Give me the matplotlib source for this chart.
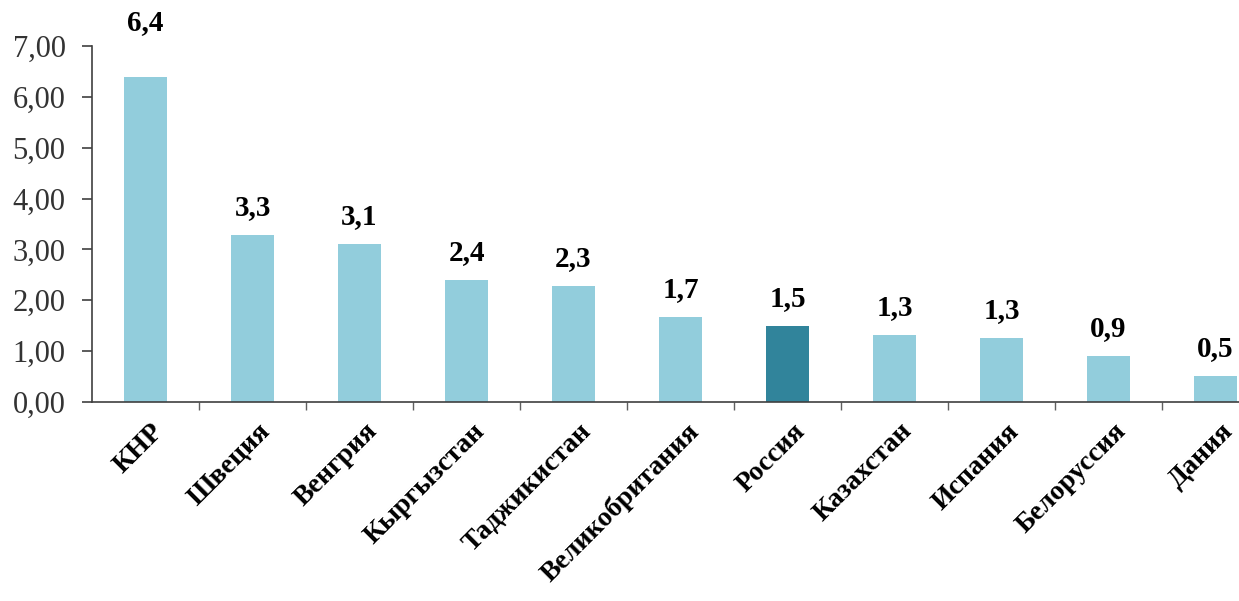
import numpy as np
import matplotlib.pyplot as plt
from matplotlib.ticker import FuncFormatter, FixedLocator

plt.rcParams['font.family'] = ['Liberation Serif', 'DejaVu Serif']

countries = ['КНР', 'Швеция', 'Венгрия', 'Кыргызстан', 'Таджикистан', 'Великобритания',
             'Россия', 'Казахстан', 'Испания', 'Белоруссия', 'Дания']
values = [6.4, 3.3, 3.1, 2.4, 2.3, 1.7, 1.5, 1.3, 1.3, 0.9, 0.5]
heights = [6.39, 3.28, 3.1, 2.4, 2.28, 1.67, 1.49, 1.32, 1.26, 0.9, 0.51]
highlight = 'Россия'

light = '#92CDDC'
dark = '#31849B'
colors = [dark if c == highlight else light for c in countries]

fig = plt.figure(figsize=(12.39, 6.01), dpi=100)
ax = fig.add_axes([92 / 1239, 199 / 601, 1177 / 1239, 356 / 601])

x = np.arange(len(countries))
ax.bar(x, heights, width=0.41, color=colors, zorder=2)

for xi, h, v in zip(x, heights, values):
    ty = h + 0.28
    if ty > 6.5:
        # the tallest label sits above the top of the axis
        ty = 7.2
    ax.text(xi, ty, f'{v:.1f}'.replace('.', ','), ha='center', va='bottom',
            fontsize=21, fontweight='bold', clip_on=False)

ax.set_xlim(-0.5, len(countries) - 0.5)
ax.set_ylim(0, 7)
ax.set_yticks(np.arange(0, 8, 1))
ax.yaxis.set_major_formatter(FuncFormatter(lambda v, p: f'{v:.2f}'.replace('.', ',')))
ax.tick_params(axis='y', labelsize=22, direction='out', length=7, width=1.2,
               colors='#404040', labelcolor='#333333', pad=12)

ax.set_xticks(x + 0.05)
ax.set_xticklabels(countries, rotation=45, ha='right', va='top', rotation_mode='anchor',
                   fontsize=20, fontweight='bold')
ax.tick_params(axis='x', length=0, pad=12)
ax.xaxis.set_minor_locator(FixedLocator(x[:-1] + 0.5))
ax.tick_params(axis='x', which='minor', direction='out', length=6, width=1, colors='#606060')

for s in ['top', 'right']:
    ax.spines[s].set_visible(False)
ax.spines['left'].set_color('#404040')
ax.spines['bottom'].set_color('#404040')
ax.spines['left'].set_linewidth(1.2)
ax.spines['bottom'].set_linewidth(1.2)

fig.savefig('out.png', dpi=100)
